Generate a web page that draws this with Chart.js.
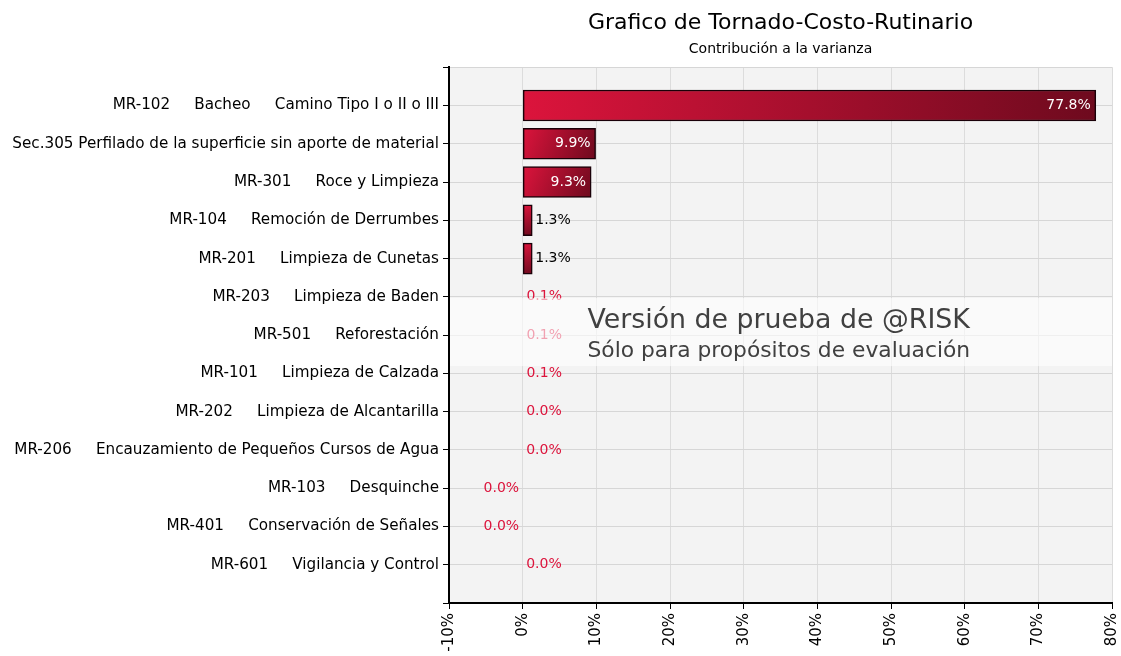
<!DOCTYPE html>
<html>
<head>
<meta charset="utf-8">
<script src="https://cdn.jsdelivr.net/npm/chart.js@4.4.1/dist/chart.umd.min.js"></script>
<style>
  html, body { margin: 0; padding: 0; background: #fff; overflow: hidden; }
  #wrap { width: 1121px; height: 656px; position: relative; }
</style>
</head>
<body>
<div id="wrap"><canvas id="tornado"></canvas></div>
<script>
  /* ── Data ── */
  var categories = [
    'MR-102     Bacheo     Camino Tipo I o II o III',
    'Sec.305 Perfilado de la superficie sin aporte de material',
    'MR-301     Roce y Limpieza',
    'MR-104     Remoción de Derrumbes',
    'MR-201     Limpieza de Cunetas',
    'MR-203     Limpieza de Baden',
    'MR-501     Reforestación',
    'MR-101     Limpieza de Calzada',
    'MR-202     Limpieza de Alcantarilla',
    'MR-206     Encauzamiento de Pequeños Cursos de Agua',
    'MR-103     Desquinche',
    'MR-401     Conservación de Señales',
    'MR-601     Vigilancia y Control'
  ];
  var contribution = [77.8, 9.9, 9.3, 1.3, 1.3, 0.1, 0.1, 0.1, 0.02, 0.02, -0.02, -0.02, 0.02];
  var xTicks = [-10, 0, 10, 20, 30, 40, 50, 60, 70, 80];

  var FONT = "'DejaVu Sans', sans-serif";
  var CRIMSON = '#dc143c';
  var MAROON = '#6e0a1e';

  // blank slots at both ends give the empty band above and below the bars
  var labels = [''].concat(categories, ['']);
  var values = [null].concat(contribution, [null]);

  function fmt(v) {
    var shown = Math.abs(v) < 0.05 ? 0 : v;
    return shown.toFixed(1) + '%';
  }

  function tiny(v) { return v == null || Math.abs(v) < 0.5; }

  /* ── Bar gradient, one per bar (top-left bright -> bottom-right dark) ── */
  function barFill(ctx) {
    var chart = ctx.chart;
    var v = ctx.raw;
    if (tiny(v)) return 'rgba(0,0,0,0)';
    if (!chart.chartArea) return CRIMSON;
    var xs = chart.scales.x, ys = chart.scales.y;
    var x0 = xs.getPixelForValue(0), x1 = xs.getPixelForValue(v);
    var yc = ys.getPixelForValue(ctx.dataIndex);
    var l = Math.min(x0, x1), r = Math.max(x0, x1);
    var g = chart.ctx.createLinearGradient(l, yc - 15, r, yc + 15);
    g.addColorStop(0, CRIMSON);
    g.addColorStop(1, MAROON);
    return g;
  }

  /* ── Plot background ── */
  var plotBg = {
    id: 'plotBg',
    beforeDraw: function (chart) {
      var a = chart.chartArea, c = chart.ctx;
      c.save();
      c.fillStyle = '#f3f3f3';
      c.fillRect(a.left, a.top, a.right - a.left, a.bottom - a.top);
      c.restore();
    }
  };

  /* ── Value labels ── */
  var valueLabels = {
    id: 'valueLabels',
    afterDatasetsDraw: function (chart) {
      var c = chart.ctx;
      var meta = chart.getDatasetMeta(0);
      c.save();
      c.font = '14px ' + FONT;
      c.textBaseline = 'middle';
      meta.data.forEach(function (bar, i) {
        var v = values[i];
        if (v == null) return;
        var w = Math.abs(bar.x - bar.base);
        var txt = fmt(v);
        if (w > 50) {
          c.fillStyle = '#ffffff';
          c.textAlign = 'right';
          c.fillText(txt, Math.max(bar.x, bar.base) - 5, bar.y);
        } else if (v >= 0) {
          c.fillStyle = v >= 1 ? '#000000' : CRIMSON;
          c.textAlign = 'left';
          c.fillText(txt, Math.max(bar.x, bar.base) + 3, bar.y);
        } else {
          c.fillStyle = CRIMSON;
          c.textAlign = 'right';
          c.fillText(txt, Math.min(bar.x, bar.base) - 3, bar.y);
        }
      });
      c.restore();
    }
  };

  /* ── Trial-version watermark ── */
  var watermark = {
    id: 'watermark',
    afterDraw: function (chart) {
      var a = chart.chartArea, c = chart.ctx;
      var mid = (a.top + a.bottom) / 2 - 3;
      c.save();
      c.fillStyle = 'rgba(255,255,255,0.6)';
      c.fillRect(a.left + 1, mid - 34, a.right - a.left - 1, 68);
      c.fillStyle = '#404040';
      c.textAlign = 'left';
      c.textBaseline = 'alphabetic';
      var x = chart.scales.x.getPixelForValue(8.8);
      c.font = '26.8px ' + FONT;
      c.fillText('Versión de prueba de @RISK', x, mid - 4);
      c.font = '21.8px ' + FONT;
      c.fillText('Sólo para propósitos de evaluación', x, mid + 25);
      c.restore();
    }
  };

  new Chart(document.getElementById('tornado'), {
    type: 'bar',
    data: {
      labels: labels,
      datasets: [{
        data: values,
        backgroundColor: barFill,
        borderColor: function (ctx) {
          return tiny(ctx.raw) ? 'rgba(0,0,0,0)' : '#1a0008';
        },
        borderWidth: function (ctx) {
          return tiny(ctx.raw) ? 0 : 1.5;
        },
        borderSkipped: false,
        barThickness: 31
      }]
    },
    options: {
      indexAxis: 'y',
      responsive: true,
      maintainAspectRatio: false,
      animation: false,
      layout: { padding: { left: 0, right: 9, top: 0, bottom: 0 } },
      plugins: {
        legend: { display: false },
        tooltip: { enabled: false },
        title: {
          display: true,
          text: 'Grafico de Tornado-Costo-Rutinario',
          fullSize: false,
          color: '#000',
          font: { family: FONT, size: 22, weight: 'normal' },
          padding: { top: 10, bottom: 0 }
        },
        subtitle: {
          display: true,
          text: 'Contribución a la varianza',
          fullSize: false,
          color: '#000',
          font: { family: FONT, size: 14, weight: 'normal' },
          padding: { top: 5, bottom: 9 }
        }
      },
      scales: {
        x: {
          type: 'linear',
          min: -10,
          max: 80,
          afterBuildTicks: function (s) {
            s.ticks = xTicks.map(function (v) { return { value: v }; });
          },
          afterFit: function (s) {
            s.height = 53;
            s.paddingLeft = 0;
            s.paddingRight = 0;
          },
          border: { color: '#000', width: 2 },
          grid: { color: '#dcdcdc', tickColor: '#000', tickLength: 6, lineWidth: 1 },
          ticks: {
            minRotation: 90,
            maxRotation: 90,
            color: '#000',
            padding: 4,
            font: { family: FONT, size: 15 },
            callback: function (v) { return v + '%'; }
          }
        },
        y: {
          type: 'category',
          offset: false,
          afterFit: function (s) { s.width = 449; },
          border: { color: '#000', width: 2 },
          grid: { offset: false, color: '#d6d6d6', tickColor: '#000', tickLength: 6, lineWidth: 1 },
          ticks: {
            color: '#000',
            padding: 4,
            autoSkip: false,
            font: { family: FONT, size: 15.2 }
          }
        }
      }
    },
    plugins: [plotBg, valueLabels, watermark]
  });
</script>
</body>
</html>
